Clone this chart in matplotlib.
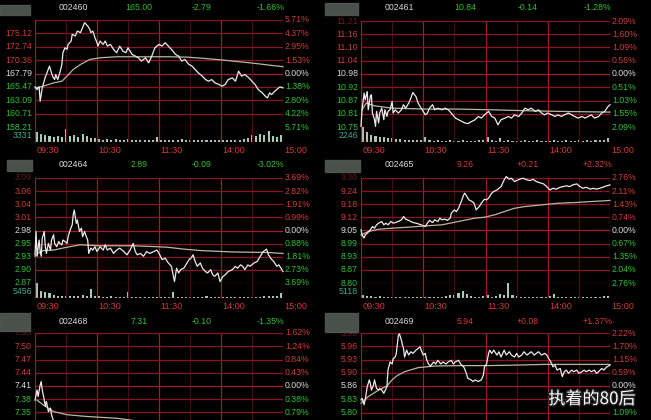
import numpy as np
import matplotlib.pyplot as plt
from matplotlib.patches import Rectangle
import matplotlib.patheffects as pe

plt.rcParams['font.family'] = ['Liberation Sans', 'DejaVu Sans']

# ---- data (minutes since 09:30, prices) ----
p1_head = ['002460', '165.00', '-2.79', '-1.66%']
p1_close, p1_step = 167.79, 2.39
p1_left = ['', '175.12', '172.74', '170.36', '167.79', '165.47', '163.09', '160.71', '158.21']
p1_right = ['5.71%', '4.37%', '2.95%', '1.53%', '0.00%', '1.38%', '2.80%', '4.22%', '5.71%']
p1_t = [0, 2, 4, 5, 7, 10, 11, 14, 15, 17, 19, 20, 22, 24, 26, 27, 29, 31, 32, 35, 36, 39, 41, 44, 46,
        48, 51, 53, 54, 56, 58, 60, 61, 63, 66, 68, 70, 73, 76, 79, 82, 85, 88, 90, 94, 97, 100, 103,
        107, 110, 113, 116, 120, 123, 126, 129, 132, 136, 139, 142, 145, 149, 152, 155, 158, 162, 165,
        168, 171, 174, 178, 181, 184, 187, 191, 194, 197, 200, 203, 207, 210, 213, 216, 220, 223, 225,
        227, 229, 232, 234, 237, 240]
p1_price = [165.40, 164.92, 165.40, 162.83, 165.22, 167.19, 167.61, 169.11, 168.51, 167.31, 166.71,
            167.61, 166.71, 167.91, 169.40, 171.50, 172.39, 172.10, 172.99, 173.59, 174.79, 174.49,
            175.38, 175.09, 175.98, 176.88, 176.28, 175.68, 175.09, 175.38, 174.19, 173.29, 172.69,
            173.59, 172.99, 173.59, 172.69, 172.99, 172.10, 171.50, 172.69, 171.80, 171.50, 172.39,
            171.20, 170.90, 170.60, 170.00, 170.60, 169.70, 170.90, 172.39, 172.99, 172.69, 173.29,
            172.69, 172.10, 171.20, 170.90, 170.00, 170.30, 169.40, 169.11, 168.51, 167.91, 167.31,
            166.71, 166.41, 166.71, 166.12, 165.82, 165.52, 165.82, 166.71, 167.01, 166.41, 168.21,
            167.31, 167.61, 167.01, 166.41, 165.82, 164.92, 164.32, 163.72, 163.42, 164.32, 164.02,
            164.62, 164.92, 165.40, 165.22]
p1_avg_t = [0, 8, 18, 26, 31, 37, 44, 53, 63, 79, 95, 128, 147, 160, 176, 192, 208, 224, 240]
p1_avg = [165.22, 165.52, 166.12, 166.41, 167.31, 168.51, 169.40, 170.30, 170.60, 170.78, 170.78,
          170.78, 170.72, 170.54, 170.30, 170.00, 169.70, 169.35, 169.00]
p1_vol_max = 3331
p1_vol = [2300, 1900, 1500, 1400, 1200, 1300, 1100, 3000, 1400, 1600, 1200, 1700, 1300, 900, 800,
          600, 500, 700, 500, 600, 450, 500, 600, 500, 400, 550, 500, 450, 500, 1200,
          500, 450, 400, 500, 450, 600, 400, 450, 500, 400, 450, 500, 400, 550, 450,
          400, 500, 450, 400, 500, 600, 800, 1500, 1300, 1900, 1600, 2500, 1400, 1100, 1600]

p2_head = ['002461', '10.84', '-0.14', '-1.28%']
p2_close, p2_step = 10.98, 0.0574
p2_left = ['11.21', '11.16', '11.10', '11.04', '10.98', '10.92', '10.87', '10.81', '10.75']
p2_right = ['2.09%', '1.60%', '1.09%', '0.56%', '0.00%', '0.51%', '1.03%', '1.55%', '2.09%']
p2_t = [0, 1, 3, 4, 6, 7, 9, 10, 11, 13, 14, 15, 17, 18, 20, 22, 23, 25, 26, 28, 30, 31, 33, 36, 39,
        41, 43, 46, 48, 50, 53, 55, 57, 59, 62, 64, 66, 69, 71, 74, 78, 81, 84, 87, 91, 94, 97, 100,
        103, 107, 110, 113, 116, 119, 123, 126, 129, 132, 135, 139, 142, 145, 148, 152, 155, 158, 161,
        164, 168, 171, 174, 177, 180, 184, 187, 190, 193, 196, 200, 203, 206, 209, 213, 216, 219, 222,
        225, 229, 232, 235, 238, 240]
p2_price = [10.753, 10.825, 10.897, 10.868, 10.904, 10.825, 10.882, 10.890, 10.811, 10.782,
            10.753, 10.818, 10.768, 10.811, 10.832, 10.782, 10.825, 10.796, 10.818, 10.825,
            10.861, 10.811, 10.825, 10.811, 10.825, 10.847, 10.832, 10.854, 10.875, 10.900,
            10.882, 10.854, 10.839, 10.825, 10.803, 10.811, 10.832, 10.847, 10.825, 10.832,
            10.825, 10.832, 10.825, 10.811, 10.789, 10.782, 10.775, 10.768, 10.765, 10.775,
            10.782, 10.796, 10.789, 10.803, 10.818, 10.796, 10.789, 10.760, 10.782, 10.789,
            10.796, 10.789, 10.803, 10.796, 10.811, 10.832, 10.825, 10.832, 10.818, 10.825,
            10.811, 10.803, 10.811, 10.803, 10.796, 10.803, 10.796, 10.803, 10.811, 10.803,
            10.796, 10.789, 10.796, 10.789, 10.796, 10.803, 10.789, 10.796, 10.811, 10.818,
            10.839, 10.847]
p2_avg_t = [1, 5, 13, 30, 62, 94, 126, 158, 190, 240]
p2_avg = [10.825, 10.854, 10.842, 10.832, 10.828, 10.828, 10.825, 10.821, 10.818, 10.815]
p2_vol_max = 2246
p2_vol = [2246, 1500, 1100, 900, 800, 700, 650, 600, 500, 400, 350, 300, 300, 250, 300,
          700, 250, 200, 250, 200, 200, 250, 200, 200, 250, 200, 200, 200, 250, 250,
          700, 250, 200, 550, 200, 250, 200, 200, 200, 250, 200, 200, 250, 200, 200,
          200, 250, 200, 200, 250, 200, 200, 250, 200, 250, 200, 250, 300, 350, 600]

p3_head = ['002464', '2.89', '-0.09', '-3.02%']
p3_close, p3_step = 2.98, 0.0275
p3_left = ['3.09', '3.06', '3.04', '3.01', '2.98', '2.95', '2.93', '2.90', '2.87']
p3_right = ['3.69%', '2.82%', '1.91%', '0.99%', '0.00%', '0.88%', '1.81%', '2.73%', '3.69%']
p3_t = [0, 1, 2, 4, 5, 6, 7, 9, 10, 11, 13, 15, 16, 18, 19, 21, 23, 24, 26, 27, 29, 31, 32, 34, 36,
        37, 38, 40, 41, 43, 45, 46, 48, 49, 51, 52, 54, 56, 58, 60, 63, 66, 68, 70, 73, 76, 79, 82,
        86, 89, 92, 95, 97, 99, 102, 105, 108, 111, 115, 118, 120, 123, 126, 129, 132, 135, 137, 139,
        141, 144, 146, 149, 151, 153, 155, 157, 160, 162, 165, 167, 170, 172, 174, 177, 179, 182, 184,
        187, 191, 194, 196, 199, 201, 203, 206, 208, 212, 215, 218, 221, 224, 226, 228, 231, 234, 236,
        238, 240]
p3_price = [2.929, 2.978, 2.926, 2.960, 2.936, 2.926, 2.964, 2.978, 2.946, 2.932,
            2.953, 2.939, 2.960, 2.971, 2.953, 2.946, 2.957, 2.953, 2.950, 2.960,
            2.957, 2.953, 2.967, 2.981, 2.992, 3.013, 3.023, 2.995, 3.002, 2.978,
            2.985, 2.967, 2.978, 2.971, 2.960, 2.932, 2.943, 2.939, 2.946, 2.936,
            2.946, 2.939, 2.950, 2.939, 2.943, 2.932, 2.939, 2.943, 2.936, 2.929,
            2.939, 2.953, 2.936, 2.929, 2.932, 2.926, 2.936, 2.932, 2.936, 2.939,
            2.932, 2.919, 2.922, 2.912, 2.905, 2.873, 2.901, 2.891, 2.898, 2.901,
            2.908, 2.919, 2.922, 2.929, 2.915, 2.905, 2.912, 2.901, 2.894, 2.891,
            2.898, 2.887, 2.884, 2.891, 2.873, 2.884, 2.887, 2.894, 2.898, 2.905,
            2.901, 2.908, 2.905, 2.898, 2.908, 2.905, 2.912, 2.915, 2.926, 2.936,
            2.941, 2.929, 2.922, 2.915, 2.905, 2.908, 2.901, 2.894]
p3_avg_t = [0, 3, 8, 18, 31, 44, 53, 63, 95, 118, 128, 144, 160, 192, 224, 240]
p3_avg = [2.926, 2.932, 2.938, 2.939, 2.945, 2.950, 2.949, 2.948, 2.948, 2.946, 2.945, 2.941,
          2.938, 2.935, 2.934, 2.932]
p3_vol_max = 5456
p3_vol = [5456, 2500, 2200, 1800, 1200, 900, 800, 700, 900, 800, 700, 1000, 800, 3200, 900,
          600, 500, 500, 600, 500, 500, 500, 2400, 500, 400, 500, 450, 500, 450, 400,
          500, 500, 450, 2300, 500, 450, 500, 400, 450, 400, 450, 900, 400, 450, 400,
          450, 400, 500, 450, 400, 500, 450, 400, 500, 450, 600, 700, 800, 900, 2000]

p4_head = ['002465', '9.26', '+0.21', '+2.32%']
p4_close, p4_step = 9.05, 0.0625
p4_left = ['9.30', '9.24', '9.18', '9.12', '9.05', '8.99', '8.93', '8.87', '8.80']
p4_right = ['2.76%', '2.11%', '1.43%', '0.74%', '0.00%', '0.67%', '1.35%', '2.04%', '2.76%']
p4_t = [0, 1, 3, 4, 6, 9, 11, 13, 15, 17, 20, 22, 24, 26, 29, 31, 33, 36, 39, 41, 43, 46, 48, 50, 53,
        55, 58, 60, 62, 64, 66, 69, 71, 74, 76, 78, 81, 83, 86, 87, 90, 92, 94, 96, 99, 100, 102, 104,
        107, 109, 111, 114, 116, 119, 121, 123, 126, 128, 131, 133, 135, 138, 140, 143, 145, 148, 150,
        153, 156, 160, 163, 166, 169, 172, 176, 179, 182, 185, 188, 192, 195, 198, 201, 204, 208, 211,
        214, 217, 221, 224, 227, 230, 233, 237, 240]
p4_price = [9.053, 9.029, 9.014, 9.029, 9.037, 9.053, 9.069, 9.061, 9.077, 9.085,
            9.093, 9.077, 9.085, 9.077, 9.093, 9.085, 9.088, 9.093, 9.101, 9.117,
            9.104, 9.098, 9.093, 9.088, 9.085, 9.082, 9.077, 9.072, 9.069, 9.085,
            9.098, 9.088, 9.101, 9.093, 9.109, 9.101, 9.104, 9.098, 9.109, 9.132,
            9.148, 9.140, 9.156, 9.180, 9.220, 9.228, 9.212, 9.196, 9.188, 9.180,
            9.148, 9.164, 9.180, 9.199, 9.196, 9.204, 9.228, 9.236, 9.243, 9.251,
            9.259, 9.291, 9.307, 9.294, 9.299, 9.283, 9.288, 9.294, 9.299, 9.291,
            9.288, 9.294, 9.283, 9.278, 9.272, 9.259, 9.243, 9.251, 9.247, 9.256,
            9.259, 9.263, 9.259, 9.267, 9.272, 9.259, 9.251, 9.256, 9.247, 9.251,
            9.247, 9.251, 9.256, 9.263, 9.267]
p4_avg_t = [0, 7, 17, 30, 46, 62, 78, 94, 110, 119, 129, 138, 148, 158, 174, 190, 206, 222, 240]
p4_avg = [9.029, 9.045, 9.056, 9.061, 9.066, 9.072, 9.077, 9.093, 9.109, 9.113, 9.125, 9.140,
          9.156, 9.164, 9.172, 9.180, 9.183, 9.188, 9.193]
p4_vol_max = 5118
p4_vol = [900, 700, 600, 500, 600, 500, 450, 500, 400, 450, 500, 450, 400, 450, 500,
          400, 450, 500, 450, 500, 600, 900, 1200, 1800, 2600, 1500, 700, 500, 450, 600,
          1200, 500, 700, 1400, 900, 5118, 1200, 600, 500, 450, 500, 400, 450, 500, 450,
          600, 1400, 500, 450, 400, 450, 400, 450, 500, 400, 450, 500, 400, 600, 700]

p5_head = ['002468', '7.31', '-0.10', '-1.35%']
p5_close, p5_step = 7.41, 0.03
p5_left = ['7.53', '7.50', '7.47', '7.44', '7.41', '7.38', '7.35']
p5_right = ['1.62%', '1.24%', '0.84%', '0.43%', '0.00%', '0.38%', '0.79%']
p5_t = [0, 2, 3, 5, 6, 7, 9, 10, 11, 13, 15, 16, 18, 21, 26]
p5_price = [7.378, 7.401, 7.386, 7.412, 7.420, 7.401, 7.378, 7.364, 7.375, 7.352, 7.360, 7.345,
            7.330, 7.319, 7.304]
p5_avg_t = [2, 8, 18, 31, 50, 79, 95]
p5_avg = [7.378, 7.367, 7.352, 7.345, 7.341, 7.337, 7.332]

p6_head = ['002469', '5.94', '+0.08', '+1.37%']
p6_close, p6_step = 5.86, 0.0325
p6_left = ['5.99', '5.96', '5.93', '5.90', '5.86', '5.83', '5.80']
# the label of the 5.83 row is hidden under the watermark
p6_right = ['2.22%', '1.70%', '1.15%', '0.59%', '0.00%', '', '1.09%']
p6_t = [0, 1, 3, 4, 6, 8, 9, 10, 12, 13, 15, 17, 18, 20, 22, 25, 26, 28, 30, 31, 33, 34, 36, 37, 39,
        40, 41, 42, 44, 46, 48, 50, 53, 55, 57, 58, 60, 62, 63, 65, 67, 70, 72, 74, 77, 79, 82, 84,
        87, 89, 91, 94, 96, 99, 101, 103, 106, 108, 110, 113, 116, 118, 119, 121, 123, 124, 126, 128,
        131, 133, 135, 138, 140, 143, 145, 148, 150, 152, 155, 157, 160, 162, 164, 167, 169, 171, 174,
        177, 179, 181, 183, 185, 187, 189, 192, 194, 196, 198, 200, 203, 205, 208, 210, 213, 215, 217,
        220, 222, 225, 227, 229, 232, 234, 237, 240]
p6_price = [5.826, 5.830, 5.814, 5.826, 5.858, 5.875, 5.866, 5.850, 5.862, 5.875,
            5.854, 5.850, 5.854, 5.850, 5.842, 5.858, 5.899, 5.919, 5.914, 5.927,
            5.931, 5.940, 5.984, 5.988, 5.972, 5.960, 5.952, 5.931, 5.948, 5.936,
            5.944, 5.940, 5.948, 5.952, 5.956, 5.948, 5.936, 5.940, 5.927, 5.914,
            5.909, 5.919, 5.914, 5.923, 5.914, 5.919, 5.914, 5.919, 5.923, 5.914,
            5.919, 5.923, 5.914, 5.907, 5.895, 5.879, 5.875, 5.871, 5.875, 5.871,
            5.875, 5.887, 5.907, 5.914, 5.940, 5.948, 5.940, 5.948, 5.936, 5.944,
            5.931, 5.948, 5.936, 5.944, 5.936, 5.931, 5.940, 5.931, 5.936, 5.944,
            5.936, 5.940, 5.944, 5.936, 5.940, 5.944, 5.936, 5.940, 5.936, 5.927,
            5.919, 5.907, 5.911, 5.899, 5.903, 5.883, 5.895, 5.899, 5.891, 5.899,
            5.895, 5.899, 5.891, 5.895, 5.899, 5.895, 5.899, 5.895, 5.899, 5.891,
            5.895, 5.903, 5.899, 5.907, 5.911]
p6_avg_t = [0, 7, 17, 25, 30, 34, 42, 55, 71, 94, 119, 145, 177, 209, 240]
p6_avg = [5.818, 5.834, 5.850, 5.860, 5.875, 5.884, 5.895, 5.905, 5.909, 5.910, 5.910, 5.911,
          5.913, 5.913, 5.913]

times = ['09:30', '10:30', '11:30', '14:00', '15:00']

RED = '#d23a3a'
GREEN = '#30c030'
WHITE = '#dadada'
TEAL = '#45a58e'
HGRID = '#8a1424'
VMAJOR = '#a3182a'
VMINOR = '#4e0a14'
FS = 6.3

W, H = 651, 420
fig = plt.figure(figsize=(W / 100, H / 100), dpi=100, facecolor='black')


def axes_px(x0, y0, x1, y1):
    ax = fig.add_axes([x0 / W, 1 - y1 / H, (x1 - x0) / W, (y1 - y0) / H])
    ax.set_facecolor('none')
    ax.axis('off')
    ax.set_xlim(0, 240)
    return ax


def text_px(x, y, s, **kw):
    fig.text(x / W, 1 - y / H, s, fontsize=FS, va='center', **kw)


def vgrid(ax):
    for m in [30, 90, 150, 210]:
        ax.axvline(m, color=VMINOR, lw=0.8)
    for m in [0, 60, 120, 180, 240]:
        ax.axvline(m, color=VMAJOR, lw=0.9)


def panel(x0, x1, y_top, y_bot, head, head_y, head_col, close, step, left, right,
          t, price, avg_t, avg, vol=None, vol_max=None, vol_bot=None):
    ax = axes_px(x0, y_top, x1, y_bot)
    ax.set_ylim(close - 4 * step, close + 4 * step)
    vgrid(ax)
    for k in range(9):
        ax.axhline(close + (4 - k) * step, color=VMAJOR if k == 4 else HGRID, lw=0.9)
    for k, (sl, sr) in enumerate(zip(left, right)):
        lvl = close + (4 - k) * step
        col = RED if k < 4 else (WHITE if k == 4 else GREEN)
        a = 0.5 if k == 0 else 1.0
        ax.text(-0.012, lvl, sl, transform=ax.get_yaxis_transform(), ha='right', va='center',
                color=col, fontsize=FS, alpha=a)
        ax.text(1.008, lvl, sr, transform=ax.get_yaxis_transform(), ha='left', va='center',
                color=col, fontsize=FS)
    ax.plot(avg_t, avg, color='#bdb69c', lw=0.9, clip_on=False)
    ax.plot(t, price, color='#ececec', lw=0.9, clip_on=False)

    # header row
    for frac, s, c in zip([0.155, 0.42, 0.67, 0.95], head, [WHITE] + [head_col] * 3):
        text_px(x0 + frac * (x1 - x0), head_y, s, color=c, ha='center')

    if vol is not None:
        av = axes_px(x0, y_bot, x1, vol_bot)
        av.set_ylim(0, vol_max * 1.02)
        vgrid(av)
        av.axhline(0, color=VMAJOR, lw=0.9)
        av.bar(np.arange(len(vol)) * 4 + 2, vol, width=2.0, color='#a9c9b9', lw=0)
        av.text(-0.012, 0.45, str(vol_max), transform=av.transAxes, ha='right', va='center',
                color=TEAL, fontsize=FS)
        for m, lab in zip([0, 60, 120, 180, 240], times):
            av.annotate(lab, xy=(m, 0), xycoords=('data', 'axes fraction'), xytext=(1, -6),
                        textcoords='offset points', ha='left', va='center', color=RED,
                        fontsize=FS + 0.3)


panel(35, 283, 20, 127, p1_head, 8, GREEN, p1_close, p1_step, p1_left, p1_right,
      p1_t, p1_price, p1_avg_t, p1_avg, p1_vol, p1_vol_max, 142)
panel(361, 610, 21, 127, p2_head, 8, GREEN, p2_close, p2_step, p2_left, p2_right,
      p2_t, p2_price, p2_avg_t, p2_avg, p2_vol, p2_vol_max, 142)
panel(35, 283, 178, 283, p3_head, 165, GREEN, p3_close, p3_step, p3_left, p3_right,
      p3_t, p3_price, p3_avg_t, p3_avg, p3_vol, p3_vol_max, 298)
panel(361, 610, 178, 283, p4_head, 165, RED, p4_close, p4_step, p4_left, p4_right,
      p4_t, p4_price, p4_avg_t, p4_avg, p4_vol, p4_vol_max, 298)
panel(35, 283, 333, 439, p5_head, 321, GREEN, p5_close, p5_step, p5_left, p5_right,
      p5_t, p5_price, p5_avg_t, p5_avg)
panel(361, 610, 333, 439, p6_head, 321, RED, p6_close, p6_step, p6_left, p6_right,
      p6_t, p6_price, p6_avg_t, p6_avg)

# blurred buttons at the top-left of every panel
for bx, by, bw, bh in [(0, 5, 30, 10), (325, 3, 33, 12), (7, 160, 25, 11),
                       (325, 160, 35, 12), (0, 313, 30, 18), (325, 313, 33, 19)]:
    fig.patches.append(Rectangle((bx / W, 1 - (by + bh) / H), bw / W, bh / H,
                                 transform=fig.transFigure, color='#535a55', alpha=0.9))

fig.text(592 / W, 1 - 399 / H, '执着的80后', fontsize=12.3, color='white', ha='center', va='center',
         family=['Noto Sans CJK SC', 'DejaVu Sans'],
         path_effects=[pe.withStroke(linewidth=2, foreground='#222222')])

fig.savefig('out.png', dpi=100, facecolor='black')
